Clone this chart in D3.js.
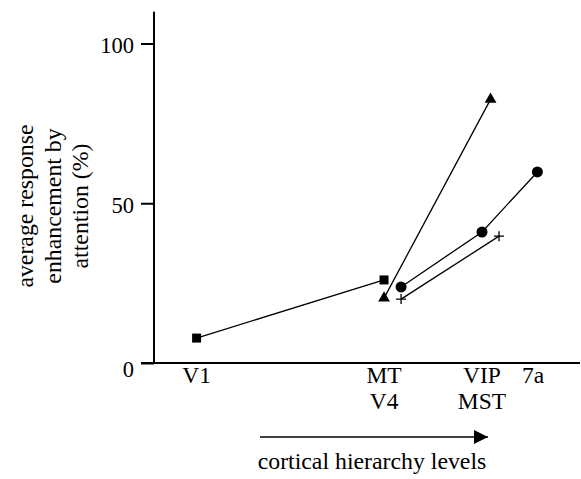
<!DOCTYPE html>
<html>
<head>
<meta charset="utf-8">
<script src="https://cdn.jsdelivr.net/npm/d3@7"></script>
<style>
  body { margin: 0; background: #fff; }
  svg { display: block; }
</style>
</head>
<body>
<svg id="chart" width="581" height="479"></svg>
<script>
// values; x is a position along the hierarchy axis (0..100)
const squarePts = [{ x: 10, y: 7.8 }, { x: 54, y: 26 }];
const trianglePts = [{ x: 54, y: 20.3 }, { x: 79, y: 82.5 }];
const circlePts = [{ x: 58, y: 23.8 }, { x: 77, y: 41 }, { x: 90, y: 59.8 }];
const plusPts = [{ x: 58, y: 20 }, { x: 81, y: 39.7 }];

const yTicks = [0, 50, 100];
const areaLabels = [
  { x: 10, lines: ["V1"] },
  { x: 54, lines: ["MT", "V4"] },
  { x: 77, lines: ["VIP", "MST"] },
  { x: 89, lines: ["7a"] },
];
const yTitle = ["average response", "enhancement by", "attention (%)"];
const xTitle = "cortical hierarchy levels";

const FONT = "Liberation Serif";
const FS = 23;
const svg = d3.select("#chart");
const x = d3.scaleLinear().domain([0, 100]).range([154, 580]);
const y = d3.scaleLinear().domain([0, 100]).range([363, 43.5]);

const label = (sel, size = FS) => sel.attr("font-family", FONT).attr("font-size", size).attr("fill", "#000");

// axes
svg.append("line").attr("x1", x(0)).attr("x2", x(0))
  .attr("y1", y(0)).attr("y2", y(109.9))
  .attr("stroke", "#000").attr("stroke-width", 2);
svg.append("line").attr("x1", x(0) - 13).attr("x2", 580)
  .attr("y1", y(0)).attr("y2", y(0))
  .attr("stroke", "#000").attr("stroke-width", 2);

const yAxis = svg.append("g").attr("transform", `translate(${x(0)},0)`)
  .call(d3.axisLeft(y).tickValues(yTicks).tickSize(13).tickPadding(7));
yAxis.select(".domain").remove();
yAxis.selectAll(".tick line").attr("stroke", "#000").attr("stroke-width", 2);
yAxis.selectAll(".tick text").call(label, 22.5)
  .attr("dy", (d) => d === 0 ? "0.62em" : "0.4em");

// area labels under the x axis
areaLabels.forEach((a) => {
  a.lines.forEach((t, i) => {
    svg.append("text").call(label, 23.5).attr("x", x(a.x)).attr("y", 383 + i * 26)
      .attr("text-anchor", "middle").text(t);
  });
});

// hierarchy arrow
svg.append("defs").append("marker").attr("id", "head")
  .attr("viewBox", "0 0 10 10").attr("refX", 10).attr("refY", 5)
  .attr("markerWidth", 25).attr("markerHeight", 14).attr("markerUnits", "userSpaceOnUse")
  .attr("orient", "auto")
  .append("path").attr("d", "M0,0L10,5L0,10Z").attr("fill", "#000");
svg.append("line").attr("x1", 260).attr("x2", 488).attr("y1", 437).attr("y2", 437)
  .attr("stroke", "#000").attr("stroke-width", 1.6).attr("marker-end", "url(#head)");
svg.append("text").call(label, 23.8).attr("x", 372).attr("y", 469).attr("text-anchor", "middle")
  .text(xTitle);

// y title
const yt = svg.append("text").call(label, 23.8).attr("transform", "translate(0,206) rotate(-90)")
  .attr("text-anchor", "middle");
yTitle.forEach((t, i) => yt.append("tspan").attr("x", 0).attr("y", 33 + i * 27.5).text(t));

// series
const line = d3.line().x((d) => x(d.x)).y((d) => y(d.y));
[squarePts, trianglePts, circlePts, plusPts].forEach((pts) => {
  svg.append("path").datum(pts).attr("d", line)
    .attr("fill", "none").attr("stroke", "#000").attr("stroke-width", 1.3);
});

function marks(pts, sym, size) {
  svg.append("g").selectAll("path").data(pts).join("path")
    .attr("transform", (d) => `translate(${x(d.x)},${y(d.y)})`)
    .attr("d", d3.symbol(sym, size)).attr("fill", "#000");
}
marks(squarePts, d3.symbolSquare, 81);
marks(trianglePts, d3.symbolTriangle, 60);
marks(circlePts, d3.symbolCircle, 95);

svg.append("g").selectAll("path").data(plusPts).join("path")
  .attr("transform", (d) => `translate(${x(d.x)},${y(d.y)})`)
  .attr("d", "M-5,0H5M0,-5V5")
  .attr("stroke", "#000").attr("stroke-width", 1.3).attr("fill", "none");
</script>
</body>
</html>
